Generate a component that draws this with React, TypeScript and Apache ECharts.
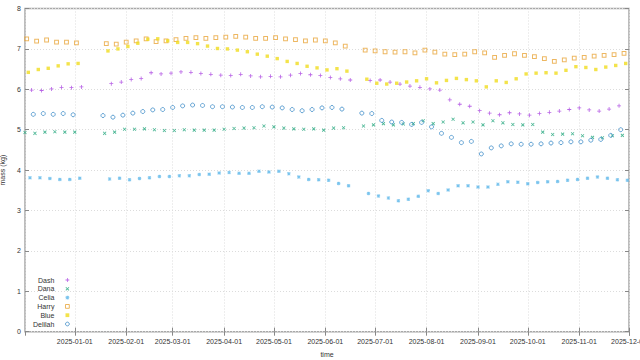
import React, { useEffect, useRef } from 'react';
import * as echarts from 'echarts';

// Measurement dates (shared cadence); each animal was weighed a few days apart
const BASE_DATES = [
  '2024-12-03', '2024-12-09', '2024-12-15', '2024-12-21', '2024-12-27', '2025-01-02', '2025-01-08', '2025-01-14', '2025-01-20', '2025-01-26',
  '2025-02-01', '2025-02-07', '2025-02-13', '2025-02-19', '2025-02-25', '2025-03-03', '2025-03-09', '2025-03-15', '2025-03-21', '2025-03-27',
  '2025-04-02', '2025-04-08', '2025-04-14', '2025-04-20', '2025-04-26', '2025-05-02', '2025-05-08', '2025-05-14', '2025-05-20', '2025-05-26',
  '2025-06-01', '2025-06-07', '2025-06-13', '2025-06-19', '2025-06-25', '2025-07-01', '2025-07-07', '2025-07-13', '2025-07-19', '2025-07-25',
  '2025-07-31', '2025-08-06', '2025-08-12', '2025-08-18', '2025-08-24', '2025-08-30', '2025-09-05', '2025-09-11', '2025-09-17', '2025-09-23',
  '2025-09-29', '2025-10-05', '2025-10-11', '2025-10-17', '2025-10-23', '2025-10-29', '2025-11-04', '2025-11-10', '2025-11-16', '2025-11-22',
  '2025-11-28',
];

// Day shift of each animal's weighing relative to BASE_DATES
const DAY_SHIFT: Record<string, number> = { Dash: 3, Dana: -1, Celia: 2, Harry: 0, Blue: 1, Delilah: 4 };

const N = null;
const dashValues = [
  5.98, 5.97, 6.01, 6.05, 6.04, 6.06, N, N, 6.14, 6.18,
  6.24, 6.27, 6.41, 6.38, 6.40, 6.43, 6.42, 6.39, 6.37, 6.35,
  6.34, 6.37, 6.33, 6.31, 6.32, 6.31, 6.35, 6.39, 6.36, 6.34,
  6.29, 6.26, 6.23, N, 6.22, 6.23, 6.18, 6.13, 6.08, 6.05,
  6.01, 5.98, 5.74, 5.63, 5.58, 5.47, 5.41, 5.37, 5.42, 5.39,
  5.36, 5.40, 5.43, 5.46, 5.50, 5.54, 5.49, 5.46, 5.51, 5.59,
  N,
];
const danaValues = [
  4.93, 4.91, 4.94, 4.95, 4.94, 4.94, N, N, 4.91, 4.94,
  5.01, 5.01, 5.02, 5.00, 4.98, 4.98, 5.00, 4.99, 4.99, 4.99,
  5.01, 5.03, 5.04, 5.05, 5.09, 5.07, 5.04, 5.02, 5.01, 5.02,
  4.99, 5.04, 5.05, N, 5.09, 5.12, 5.15, 5.12, 5.14, 5.15,
  5.22, 5.15, 5.19, 5.26, 5.17, 5.19, 5.12, 5.22, 5.17, 5.13,
  5.12, 5.13, 4.94, 4.88, 4.89, 4.90, 4.85, 4.81, 4.80, 4.85,
  4.86,
];
const celiaValues = [
  3.81, 3.81, 3.79, 3.77, 3.77, 3.80, N, N, 3.78, 3.80,
  3.76, 3.79, 3.81, 3.84, 3.84, 3.86, 3.86, 3.89, 3.90, 3.93,
  3.94, 3.92, 3.92, 3.97, 3.95, 3.97, 3.91, 3.83, 3.77, 3.76,
  3.75, 3.67, 3.61, N, 3.42, 3.36, 3.31, 3.24, 3.28, 3.35,
  3.49, 3.42, 3.51, 3.61, 3.61, 3.58, 3.58, 3.65, 3.71, 3.70,
  3.66, 3.69, 3.71, 3.72, 3.75, 3.77, 3.80, 3.83, 3.80, 3.76,
  3.75,
];
const harryValues = [
  7.25, 7.19, 7.22, 7.17, 7.17, 7.15, N, N, 7.13, 7.12,
  7.17, 7.20, 7.25, 7.18, 7.20, 7.23, 7.26, 7.28, 7.26, 7.28,
  7.29, 7.31, 7.29, 7.26, 7.26, 7.28, 7.25, 7.23, 7.20, 7.22,
  7.20, 7.15, 7.07, N, 6.97, 6.95, 6.93, 6.92, 6.93, 6.90,
  6.97, 6.92, 6.87, 6.86, 6.87, 6.93, 6.90, 6.79, 6.84, 6.88,
  6.84, 6.81, 6.76, 6.69, 6.73, 6.77, 6.79, 6.82, 6.84, 6.86,
  6.89,
];
const blueValues = [
  6.42, 6.49, 6.52, 6.58, 6.63, 6.64, N, N, 6.95, 7.00,
  7.06, 7.14, 7.24, 7.25, 7.20, 7.16, 7.16, 7.13, 7.07, 7.01,
  7.00, 6.97, 6.93, 6.87, 6.82, 6.76, 6.69, 6.64, 6.57, 6.53,
  6.48, 6.51, 6.45, N, 6.25, 6.15, 6.13, 6.15, 6.18, 6.21,
  6.26, 6.16, 6.22, 6.27, 6.24, 6.21, 6.06, 6.21, 6.17, 6.26,
  6.38, 6.40, 6.41, 6.40, 6.47, 6.56, 6.54, 6.49, 6.55, 6.59,
  6.64,
];
const delilahValues = [
  5.38, 5.40, 5.38, 5.40, 5.37, N, N, 5.35, 5.31, 5.36,
  5.41, 5.45, 5.49, 5.50, 5.55, 5.59, 5.61, 5.60, 5.57, 5.57,
  5.56, 5.55, 5.55, 5.57, 5.56, 5.54, 5.50, 5.47, 5.50, 5.54,
  5.55, 5.51, N, 5.41, 5.40, 5.23, 5.19, 5.18, 5.13, 5.18,
  5.07, 4.91, 4.81, 4.68, 4.71, 4.40, 4.55, 4.60, 4.65, 4.64,
  4.64, 4.65, 4.67, 4.68, 4.70, 4.70, 4.74, 4.76, 4.86, 5.00,
  N,
];

const SERIES_NAMES = ['Dash', 'Dana', 'Celia', 'Harry', 'Blue', 'Delilah'];
const SERIES_VALUES: Record<string, (number | null)[]> = {
  Dash: dashValues, Dana: danaValues, Celia: celiaValues,
  Harry: harryValues, Blue: blueValues, Delilah: delilahValues,
};

const X_MIN = '2024-12-02';
const X_MAX = '2025-12-01';
const Y_MIN = 0;
const Y_MAX = 8;
const Y_STEP = 1;

const DAY = 24 * 3600 * 1000;
const FONT = 'Liberation Sans';

function toTime(d: string, shift = 0) {
  const [y, m, dd] = d.split('-').map(Number);
  return new Date(y, m - 1, dd + shift).getTime();
}
const pad = (n: number) => (n < 10 ? '0' + n : '' + n);

const SQUARE = 'path://M0,0H10V10H0Z';
const CIRCLE = 'path://M5,0A5,5 0 1 1 4.999,0Z';

const STYLES: Record<string, any> = {
  Dash: { symbol: 'path://M2,0H3V5H2ZM0,2H5V3H0Z', symbolSize: 4, itemStyle: { color: '#a83ee0' } },
  Dana: { symbol: 'path://M0,0.8L0.8,0L5,4.2L4.2,5ZM4.2,0L5,0.8L0.8,5L0,4.2Z', symbolSize: 3.6, itemStyle: { color: '#1fa57a' } },
  Celia: { symbol: 'path://M2,0H3V5H2ZM0,2H5V3H0ZM0,0.8L0.8,0L5,4.2L4.2,5ZM4.2,0L5,0.8L0.8,5L0,4.2Z', symbolSize: 3.5, itemStyle: { color: '#56b4e9' } },
  Harry: { symbol: SQUARE, symbolSize: 3.8, itemStyle: { color: 'rgba(255,255,255,0)', borderColor: '#e8a53a', borderWidth: 1 } },
  Blue: { symbol: SQUARE, symbolSize: 3.4, itemStyle: { color: '#f0dc1e' } },
  Delilah: { symbol: CIRCLE, symbolSize: 4, itemStyle: { color: 'rgba(255,255,255,0)', borderColor: '#3d8cc8', borderWidth: 1 } },
};

export default function App() {
  const ref = useRef<HTMLDivElement>(null);
  useEffect(() => {
    if (!ref.current) return;
    const chart = echarts.init(ref.current, null, { renderer: 'svg' });
    const xMin = toTime(X_MIN);
    const xMax = toTime(X_MAX);
    const series = SERIES_NAMES.map((name) => {
      const vals = SERIES_VALUES[name];
      const data: [number, number][] = [];
      BASE_DATES.forEach((d, i) => {
        const v = vals[i];
        if (v != null) data.push([toTime(d, DAY_SHIFT[name]), v]);
      });
      return {
        name,
        type: 'scatter',
        data,
        ...STYLES[name],
        emphasis: { disabled: true },
      };
    });
    const labelStyle = { fontFamily: FONT, fontSize: 7, color: '#333' };
    const tickLine = { color: '#888', width: 1 };
    const timeCommon = {
      type: 'time',
      min: xMin,
      max: xMax,
      minInterval: 28 * DAY,
      maxInterval: 31 * DAY,
    };
    chart.setOption({
      animation: false,
      backgroundColor: '#fff',
      textStyle: { fontFamily: FONT },
      grid: {
        left: 25, right: 11, top: 8.5, bottom: 28.3,
        show: true, borderColor: '#a8a8a8', borderWidth: 1.5,
        containLabel: false, outerBoundsMode: 'none',
      },
      legend: {
        orient: 'vertical',
        left: 33,
        top: 276.5,
        align: 'right',
        itemWidth: 16,
        itemHeight: 3.8,
        itemGap: 1.8,
        padding: 0,
        symbolKeepAspect: true,
        textStyle: { ...labelStyle, lineHeight: 7 },
        data: SERIES_NAMES.map((n) =>
          n === 'Harry' || n === 'Delilah' ? { name: n, itemStyle: { borderWidth: 1 } } : { name: n }
        ),
      },
      xAxis: [
        {
          ...timeCommon,
          position: 'bottom',
          axisLine: { show: false },
          axisTick: { show: true, inside: true, length: 4, lineStyle: tickLine },
          axisLabel: {
            ...labelStyle,
            margin: 6,
            hideOverlap: false,
            showMinLabel: false,
            formatter: (v: number) => {
              const d = new Date(v);
              return `${d.getFullYear()}-${pad(d.getMonth() + 1)}-${pad(d.getDate())}`;
            },
          },
          splitLine: { show: true, lineStyle: { type: [1, 2], color: '#dcdcdc', width: 1 } },
          name: 'time',
          nameLocation: 'middle',
          nameGap: 19,
          nameTextStyle: labelStyle,
        },
        {
          ...timeCommon,
          position: 'top',
          axisLine: { show: false },
          axisTick: { show: true, inside: true, length: 4, lineStyle: tickLine },
          axisLabel: { show: false },
          splitLine: { show: false },
        },
      ],
      yAxis: [
        {
          type: 'value',
          min: Y_MIN,
          max: Y_MAX,
          interval: Y_STEP,
          position: 'left',
          axisLine: { show: false },
          axisTick: { show: true, inside: true, length: 4, lineStyle: tickLine },
          axisLabel: { ...labelStyle, margin: 4 },
          splitLine: { show: true, lineStyle: { type: [1, 2], color: '#dcdcdc', width: 1 } },
          name: 'mass (kg)',
          nameLocation: 'middle',
          nameGap: 13,
          nameRotate: 90,
          nameTextStyle: labelStyle,
        },
        {
          type: 'value',
          min: Y_MIN,
          max: Y_MAX,
          interval: Y_STEP,
          position: 'right',
          axisLine: { show: false },
          axisTick: { show: true, inside: true, length: 4, lineStyle: tickLine },
          axisLabel: { show: false },
          splitLine: { show: false },
        },
      ],
      series,
    });
    return () => chart.dispose();
  }, []);
  return (
    <div
      ref={ref}
      style={{ position: 'fixed', left: 0, top: 0, width: 640, height: 360, background: '#fff' }}
    />
  );
}
